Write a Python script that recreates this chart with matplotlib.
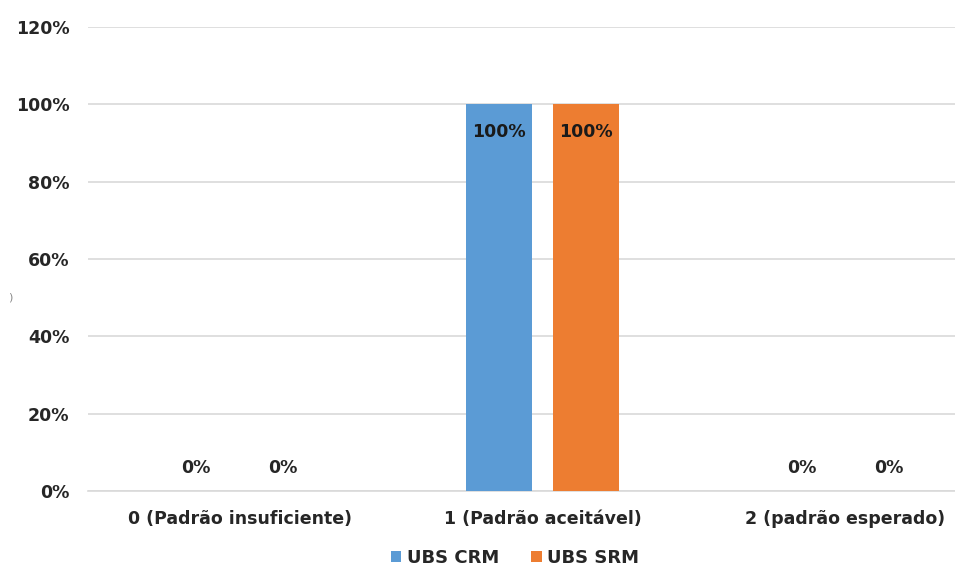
import matplotlib
matplotlib.use("Agg")
import matplotlib.pyplot as plt
import numpy as np

categories = ["0 (Padrão insuficiente)", "1 (Padrão aceitável)", "2 (padrão esperado)"]
series_names = ["UBS CRM", "UBS SRM"]
crm_values = [0, 100, 0]
srm_values = [0, 100, 0]
y_ticks = [0, 20, 40, 60, 80, 100, 120]

colors = ["#5B9BD5", "#ED7D31"]
font = ["DejaVu Sans"]
plt.rcParams["font.family"] = font
fs = 12.5

fig = plt.figure(figsize=(9.55, 5.66), dpi=100)
ax = fig.add_axes([88 / 955, 75 / 566, 909 / 955, 464 / 566])

x = np.arange(len(categories))
width = 0.218
offset = 0.143
for vals, name, col, sign in [(crm_values, series_names[0], colors[0], -1),
                              (srm_values, series_names[1], colors[1], 1)]:
    bars = ax.bar(x + sign * offset, vals, width, color=col, label=name, zorder=3)
    for b, v in zip(bars, vals):
        cx = b.get_x() + b.get_width() / 2
        if v > 0:
            ax.text(cx, v - 4.8, f"{v}%", ha="center", va="top",
                    fontsize=fs, fontweight="bold", color="#1a1a1a", zorder=4)
        else:
            ax.text(cx, 3.6, f"{v}%", ha="center", va="bottom",
                    fontsize=fs, fontweight="bold", color="#262626", zorder=4)

ax.set_xlim(-0.5, 2.5)
ax.set_ylim(0, 120)
ax.set_yticks(y_ticks)
ax.set_yticklabels([f"{t}%" for t in y_ticks])
ax.set_xticks(x)
ax.set_xticklabels(categories)
ax.yaxis.grid(True, color="#D9D9D9", linewidth=1.2, zorder=0)
ax.set_axisbelow(True)
for s in ["top", "right", "left"]:
    ax.spines[s].set_visible(False)
ax.spines["bottom"].set_color("#D9D9D9")
ax.spines["bottom"].set_linewidth(1.2)
ax.tick_params(axis="both", length=0, labelsize=fs, colors="#262626")
ax.tick_params(axis="y", pad=13.5)
ax.tick_params(axis="x", pad=14)
for lab in ax.get_xticklabels() + ax.get_yticklabels():
    lab.set_fontweight("bold")

leg = fig.legend(loc="center", bbox_to_anchor=(515 / 955, 1 - 558 / 566), ncol=2,
                 frameon=False, prop={"family": font, "weight": "bold", "size": 13},
                 handlelength=0.58, handleheight=0.58, handletextpad=0.3,
                 columnspacing=1.8, labelcolor="#262626")

fig.text(10 / 955, 1 - 297 / 566, ")", fontsize=8, color="#888888", ha="center", va="center")

fig.savefig("out.png", dpi=100)
